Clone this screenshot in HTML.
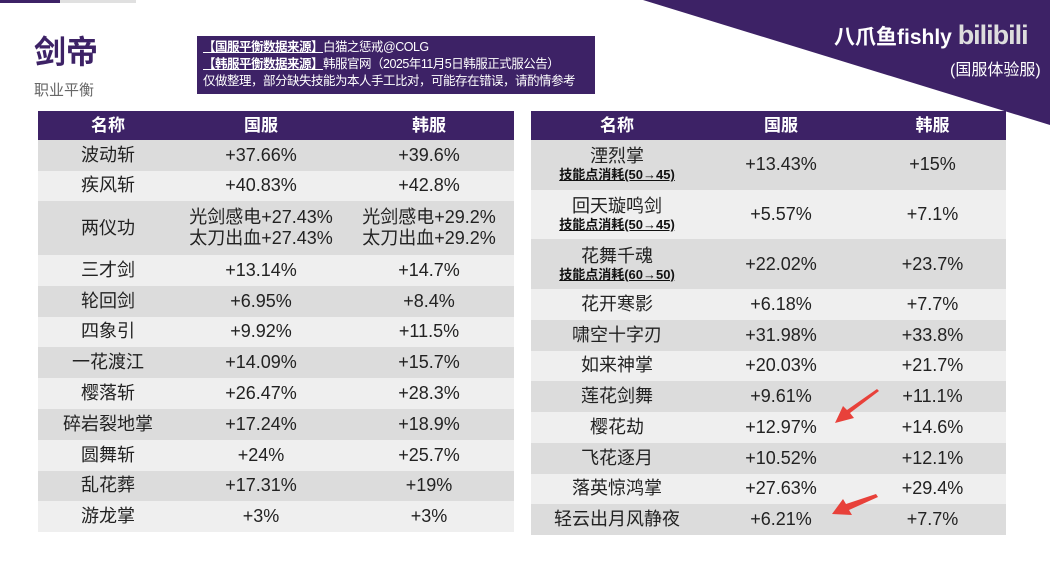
<!DOCTYPE html>
<html><head><meta charset="utf-8"><style>
*{margin:0;padding:0;box-sizing:border-box}
body{width:1050px;height:565px;position:relative;overflow:hidden;background:#fff;font-family:"Liberation Sans","Noto Sans CJK SC",sans-serif;color:#222}
.abs{position:absolute}
table{position:absolute;border-collapse:collapse;table-layout:fixed}
td,th{text-align:center;padding:0;font-size:18px;line-height:21px;font-weight:normal}
th{background:#3d2266;color:#fff;font-weight:bold;font-size:17px}
tr.g td{background:#dcdcdc}
tr.l td{background:#efefef}
.sub{font-size:13px;font-weight:bold;text-decoration:underline;line-height:16px;display:block;color:#111}
</style></head><body>
<svg class="abs" style="left:0;top:0" width="1050" height="565">
<polygon points="643,0 1050,0 1050,125" fill="#3d2266"/>
<rect x="0" y="0" width="60" height="3" fill="#3d2266"/>
<rect x="60" y="0" width="76" height="3" fill="#e0e0e0"/>
</svg>
<div class="abs" style="left:34px;top:33px;font-size:32px;font-weight:bold;color:#3d2266;line-height:38px">剑帝</div>
<div class="abs" style="left:34px;top:79px;font-size:15px;color:#666">职业平衡</div>
<div class="abs" style="left:197px;top:36px;width:398px;height:58px;background:#3d2266;color:#fff;font-size:12.5px;line-height:17px;padding:3px 0 0 6px;letter-spacing:-0.5px;white-space:nowrap">
<div><b style="text-decoration:underline">【国服平衡数据来源】</b>白猫之惩戒@COLG</div>
<div><b style="text-decoration:underline">【韩服平衡数据来源】</b>韩服官网（2025年11月5日韩服正式服公告）</div>
<div>仅做整理，部分缺失技能为本人手工比对，可能存在错误，请酌情参考</div>
</div>
<div class="abs" style="left:834px;top:20px;color:#fff;font-size:21px;font-weight:bold;white-space:nowrap">八爪鱼fishly <span style="color:#ddd;font-size:27px;letter-spacing:-1px">bilibili</span></div>
<div class="abs" style="left:950px;top:56px;color:#fff;font-size:16px;white-space:nowrap">(国服体验服)</div>

<table style="left:38px;top:111px;width:476px">
<colgroup><col style="width:140px"><col style="width:166px"><col style="width:170px"></colgroup>
<tr style="height:29px"><th>名称</th><th>国服</th><th>韩服</th></tr>
<tr class="g" style="height:30.5px"><td>波动斩</td><td>+37.66%</td><td>+39.6%</td></tr>
<tr class="l" style="height:30.5px"><td>疾风斩</td><td>+40.83%</td><td>+42.8%</td></tr>
<tr class="g" style="height:54px"><td>两仪功</td><td>光剑感电+27.43%<br>太刀出血+27.43%</td><td>光剑感电+29.2%<br>太刀出血+29.2%</td></tr>
<tr class="l" style="height:30.8px"><td>三才剑</td><td>+13.14%</td><td>+14.7%</td></tr>
<tr class="g" style="height:30.8px"><td>轮回剑</td><td>+6.95%</td><td>+8.4%</td></tr>
<tr class="l" style="height:30.8px"><td>四象引</td><td>+9.92%</td><td>+11.5%</td></tr>
<tr class="g" style="height:30.8px"><td>一花渡江</td><td>+14.09%</td><td>+15.7%</td></tr>
<tr class="l" style="height:30.8px"><td>樱落斩</td><td>+26.47%</td><td>+28.3%</td></tr>
<tr class="g" style="height:30.8px"><td>碎岩裂地掌</td><td>+17.24%</td><td>+18.9%</td></tr>
<tr class="l" style="height:30.8px"><td>圆舞斩</td><td>+24%</td><td>+25.7%</td></tr>
<tr class="g" style="height:30.8px"><td>乱花葬</td><td>+17.31%</td><td>+19%</td></tr>
<tr class="l" style="height:30.8px"><td>游龙掌</td><td>+3%</td><td>+3%</td></tr>
</table>

<table style="left:531px;top:111px;width:475px">
<colgroup><col style="width:172px"><col style="width:156px"><col style="width:147px"></colgroup>
<tr style="height:29px"><th>名称</th><th>国服</th><th>韩服</th></tr>
<tr class="g" style="height:49.7px"><td>湮烈掌<span class="sub">技能点消耗(50→45)</span></td><td>+13.43%</td><td>+15%</td></tr>
<tr class="l" style="height:49.7px"><td>回天璇鸣剑<span class="sub">技能点消耗(50→45)</span></td><td>+5.57%</td><td>+7.1%</td></tr>
<tr class="g" style="height:49.7px"><td>花舞千魂<span class="sub">技能点消耗(60→50)</span></td><td>+22.02%</td><td>+23.7%</td></tr>
<tr class="l" style="height:30.75px"><td>花开寒影</td><td>+6.18%</td><td>+7.7%</td></tr>
<tr class="g" style="height:30.75px"><td>啸空十字刃</td><td>+31.98%</td><td>+33.8%</td></tr>
<tr class="l" style="height:30.75px"><td>如来神掌</td><td>+20.03%</td><td>+21.7%</td></tr>
<tr class="g" style="height:30.75px"><td>莲花剑舞</td><td>+9.61%</td><td>+11.1%</td></tr>
<tr class="l" style="height:30.75px"><td>樱花劫</td><td>+12.97%</td><td>+14.6%</td></tr>
<tr class="g" style="height:30.75px"><td>飞花逐月</td><td>+10.52%</td><td>+12.1%</td></tr>
<tr class="l" style="height:30.75px"><td>落英惊鸿掌</td><td>+27.63%</td><td>+29.4%</td></tr>
<tr class="g" style="height:30.75px"><td>轻云出月风静夜</td><td>+6.21%</td><td>+7.7%</td></tr>
</table>
<svg class="abs" style="left:0;top:0" width="1050" height="565">
<g fill="#e8413a">
<polygon points="877,389 879,391 850,413 854,418 835,423 843,406 847,410"/>
<polygon points="876,494 878,497 849,510 852,515 832,514 843,499 846,504"/>
</g>
</svg>
</body></html>
